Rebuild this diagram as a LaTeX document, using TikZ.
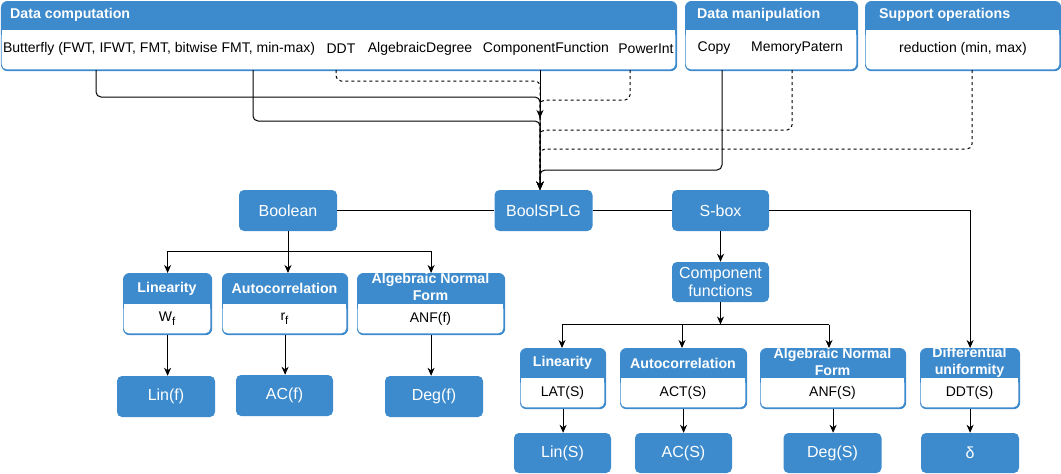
\documentclass[tikz,border=0pt]{standalone}
\usepackage{fontspec}
\setmainfont{Liberation Sans}
\usetikzlibrary{arrows.meta}
\definecolor{bl}{RGB}{61,139,205}
\newcommand{\mypanel}[6]{% name, x1, y1, x2, yh, y2
  \node[draw=bl, fill=bl, line width=1.2pt, rounded corners=6pt, inner sep=0pt,
        minimum width=#4-#2, minimum height=#6-#3, anchor=north west] (#1) at (#2,#3) {};
  \fill[white, rounded corners=5.4pt] (#2+0.6,#5) rectangle (#4-0.6,#6-0.6);
  \fill[white] (#2+0.6,#5) rectangle (#4-0.6,#5+7);
}
\newcommand{\mysub}[1]{\raisebox{-3.5pt}{\fontsize{11.5}{12}\selectfont #1}}
\begin{document}
\begin{tikzpicture}[x=1pt,y=-1pt,
  bluebox/.style={rectangle, rounded corners=5pt, fill=bl, text=white, inner sep=0pt, align=center,
                  font=\fontsize{16}{18}\selectfont},
  hdr/.style={text=white, font=\bfseries\fontsize{14.2}{17}\selectfont, inner sep=0pt, align=center},
  body/.style={text=black, font=\fontsize{14}{16}\selectfont, inner sep=0pt},
  conn/.style={line width=1pt, draw=black},
  rconn/.style={conn, rounded corners=5pt},
  arr/.style={conn, -{Stealth[length=8pt,width=7pt,inset=2.5pt]}},
  rarr/.style={arr, rounded corners=5pt},
  dsh/.style={dash pattern=on 3pt off 3pt},
]
\useasboundingbox (0,0) rectangle (1061,474);

% ---------- top panels ----------
\mypanel{dc}{1}{1}{676}{30}{70}
\mypanel{dm}{685}{1}{857}{30}{70}
\mypanel{so}{865}{1}{1060}{30}{70}
\node[hdr, anchor=west] (dch) at (10,15) {Data computation};
\node[hdr, anchor=west] (dmh) at (697,15) {Data manipulation};
\node[hdr, anchor=west] (soh) at (879,15) {Support operations};
\node[body] (bf) at (159,48.5) {Butterfly (FWT, IFWT, FMT, bitwise FMT, min-max)};
\node[body] (ddt) at (341,48.5) {DDT};
\node[body] (ad) at (420,48.5) {AlgebraicDegree};
\node[body] (cf) at (546,48.5) {ComponentFunction};
\node[body] (pint) at (646,48.5) {PowerInt};
\node[body] (cp) at (714,48.5) {Copy};
\node[body] (mp) at (797,48.5) {MemoryPatern};
\node[body] (red) at (963,48.5) {reduction (min, max)};

\coordinate (e1) at (96,70);
\coordinate (e2) at (253,70);
\coordinate (e3) at (336,70);
\coordinate (e4) at (540,70);
\coordinate (e5) at (630,70);
\coordinate (e6) at (722,70);
\coordinate (e7) at (792,70);
\coordinate (e8) at (972,70);
\coordinate (cfend) at (540,118);

% ---------- middle row ----------
\node[bluebox, minimum width=98, minimum height=41] (bool) at (288,210.5) {Boolean};
\node[bluebox, minimum width=98, minimum height=41] (bsplg) at (543.5,210.5) {BoolSPLG};
\node[bluebox, minimum width=97, minimum height=41] (sbox) at (720.5,210.5) {S-box};
\node[bluebox, minimum width=97, minimum height=40] (comp) at (720.5,282) {Component\\functions};

% ---------- top connectors ----------
\draw[rarr] (e1) -- (96,97) -- (540,97) -- (bsplg.north -| e4);
\draw[rarr] (e2) -- (253,121) -- (540,121) -- (bsplg.north -| e4);
\draw[rarr,dsh] (e3) -- (336,81) -- (540,81) -- (bsplg.north -| e4);
\draw[arr] (e4) -- (cfend);
\draw[rarr,dsh] (e5) -- (630,100) -- (540,100) -- (bsplg.north -| e4);
\draw[rarr,dsh] (e7) -- (792,130) -- (540,130) -- (bsplg.north -| e4);
\draw[rarr,dsh] (e8) -- (972,149) -- (540,149) -- (bsplg.north -| e4);
\draw[rarr] (e6) -- (722,170) -- (540,170) -- (bsplg.north -| e4);

% ---------- left small panels ----------
\mypanel{linL}{123}{273}{211}{304}{334}
\mypanel{acL}{222}{273}{347}{304}{334}
\mypanel{anfL}{357}{273}{504}{304}{334}
\node[hdr] (linLh) at (167,288.5) {Linearity};
\node[body] (linLb) at (167,318.5) {W\mysub{f}};
\node[hdr] (acLh) at (284.5,288.5) {Autocorrelation};
\node[body] (acLb) at (284.5,318.5) {r\mysub{f}};
\node[hdr] (anfLh) at (430.5,287) {Algebraic Normal\\Form};
\node[body] (anfLb) at (430.5,319) {ANF(f)};

\node[bluebox, minimum width=98, minimum height=41] (linf) at (166,396.5) {Lin(f)};
\node[bluebox, minimum width=97, minimum height=41] (acf) at (284.5,395.5) {AC(f)};
\node[bluebox, minimum width=98, minimum height=41] (degf) at (434,396.5) {Deg(f)};

% ---------- right small panels ----------
\mypanel{linR}{520}{348}{605}{378}{408}
\mypanel{acR}{620}{348}{746}{378}{408}
\mypanel{anfR}{760}{348}{905}{378}{408}
\mypanel{diff}{920}{348}{1019}{378}{408}
\node[hdr] (linRh) at (562.5,363) {Linearity};
\node[body] (linRb) at (562.5,393) {LAT(S)};
\node[hdr] (acRh) at (683,363) {Autocorrelation};
\node[body] (acRb) at (683,393) {ACT(S)};
\node[hdr] (anfRh) at (832.5,362) {Algebraic Normal\\Form};
\node[body] (anfRb) at (832.5,393) {ANF(S)};
\node[hdr] (diffh) at (969.5,362) {Differential\\uniformity};
\node[body] (diffb) at (969.5,393) {DDT(S)};

\node[bluebox, minimum width=97, minimum height=40] (linS) at (562.5,453) {Lin(S)};
\node[bluebox, minimum width=97, minimum height=40] (acS) at (683.5,453) {AC(S)};
\node[bluebox, minimum width=98, minimum height=40] (degS) at (832.5,453) {Deg(S)};
\node[bluebox, minimum width=98, minimum height=40] (delta) at (970,453) {δ};

% ---------- middle connectors ----------
\draw[conn] (bool.east) -- (bsplg.west);
\draw[conn] (bsplg.east) -- (sbox.west);
\draw[arr] (sbox.east) -| (diff.north);
\draw[arr] (sbox.south) -- (comp.north);

% Boolean tree
\coordinate (bj) at (288,251.5);
\draw[conn] (bool.south) -- (bj);
\draw[arr] (bj) -| (linL.north);
\draw[arr] (bj) -- (bj |- acL.north);
\draw[arr] (bj) -| (anfL.north);
\draw[arr] (linL.south) -- (linL.south |- linf.north);
\draw[arr] (acL.south) -- (acL.south |- acf.north);
\draw[arr] (anfL.south) -- (anfL.south |- degf.north);

% S-box tree
\coordinate (cj) at (720.5,324.5);
\coordinate (cjl) at (562,324.5);
\coordinate (cjm) at (682,324.5);
\coordinate (cjr) at (829,324.5);
\draw[arr] (comp.south) -- (cj);
\draw[conn] (cjl) -- (cjr);
\draw[arr] (cjl) -- (cjl |- linR.north);
\draw[arr] (cjm) -- (cjm |- acR.north);
\draw[arr] (cjr) -- (cjr |- anfR.north);
\draw[arr] (linR.south) -- (linR.south |- linS.north);
\draw[arr] (acR.south) -- (acR.south |- acS.north);
\draw[arr] (anfR.south) -- (anfR.south |- degS.north);
\draw[arr] (diff.south) -- (diff.south |- delta.north);
\end{tikzpicture}
\end{document}
